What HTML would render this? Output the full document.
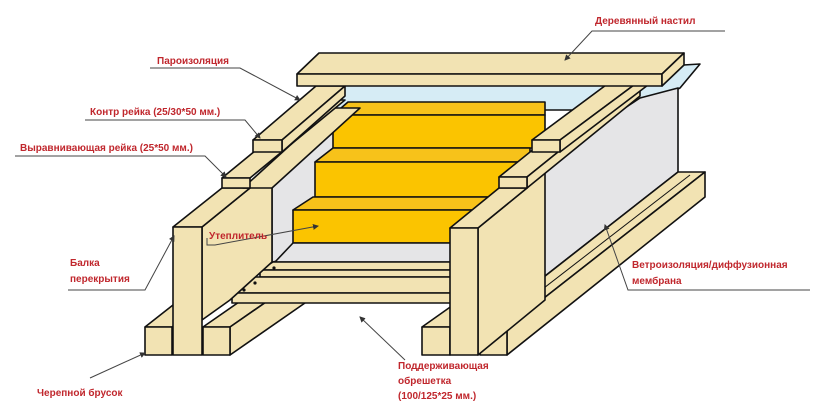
<!DOCTYPE html>
<html><head><meta charset="utf-8"><style>
html,body{margin:0;padding:0;background:#fff;}
svg{display:block}
text{font-family:"Liberation Sans","DejaVu Sans",sans-serif;font-weight:bold;font-size:10px;fill:#c0272d}
</style></head><body>
<svg width="830" height="406" viewBox="0 0 830 406" xmlns="http://www.w3.org/2000/svg">
<defs><marker id="a" markerWidth="6" markerHeight="6" refX="5" refY="3" orient="auto"><path d="M0,0 L6,3 L0,6 z" fill="#333"/></marker></defs>
<g stroke="#111" stroke-width="1.6" stroke-linejoin="round">
<!-- film -->
<polygon points="300,110 325,87 700,64 680,88 655,100 640,110" fill="#d6ecf5"/>
<!-- grey walls -->
<polygon points="272,168 345,108 345,250 272,262" fill="#e5e5e7"/>
<polygon points="530,170 640,98 678,88 678,172 545,276 530,276" fill="#e5e5e7"/>
<!-- steps -->
<polygon points="333,115 348,102 545,102 545,115" fill="#f7c21a"/>
<rect x="333" y="115" width="212" height="33" fill="#fbc400"/>
<polygon points="315,162 333,148 530,148 530,162" fill="#f7c21a"/>
<rect x="315" y="162" width="215" height="35" fill="#fbc400"/>
<polygon points="293,210 313,197 510,197 510,210" fill="#f7c21a"/>
<rect x="293" y="210" width="217" height="33" fill="#fbc400"/>
<polygon points="275,262 293,243 460,243 460,262" fill="#e5e5e7"/>
<!-- lower bruski (under boards) -->
<polygon points="145,327 172,327 200,305 173,305" fill="#f2e3b3"/>
<rect x="145" y="327" width="27" height="28" fill="#f2e3b3"/>
<polygon points="203,327 230,327 315,268 288,268" fill="#f2e3b3"/>
<polygon points="230,327 315,268 315,296 230,355" fill="#f2e3b3"/>
<rect x="203" y="327" width="27" height="28" fill="#f2e3b3"/>
<polygon points="422,327 450,327 490,298 463,298" fill="#f2e3b3"/>
<rect x="422" y="327" width="28" height="28" fill="#f2e3b3"/>
<!-- lathing -->
<polygon points="260,270 273,262 455,262 455,270" fill="#f2e3b3"/>
<rect x="260" y="270" width="195" height="7" fill="#f2e3b3"/>
<polygon points="232,293 250,277 455,277 455,293" fill="#f2e3b3"/>
<rect x="232" y="293" width="223" height="10" fill="#f2e3b3"/>
<!-- right long brusok -->
<polygon points="480,327 507,327 705,172 678,172" fill="#f2e3b3"/>
<polygon points="507,327 705,172 705,197 507,355" fill="#f2e3b3"/>
<rect x="480" y="327" width="27" height="28" fill="#f2e3b3"/>
<line x1="500" y1="322" x2="690" y2="175" stroke-width="1"/>
<!-- left beam -->
<polygon points="202,227 250,188 272,162 272,262 230,300 202,320" fill="#f2e3b3"/>
<polygon points="173,227 202,227 250,188 222,188" fill="#f2e3b3"/>
<rect x="173" y="227" width="29" height="128" fill="#f2e3b3"/>
<!-- left rails -->
<polygon points="243,188 272,188 360,108 331,108" fill="#f2e3b3"/>
<polygon points="222,178 250,178 345,100 317,100" fill="#f2e3b3"/>
<rect x="222" y="178" width="28" height="10" fill="#f2e3b3"/>
<polygon points="253,140 282,140 345,86 316,86" fill="#f2e3b3"/>
<polygon points="282,140 345,86 345,96 282,152" fill="#f2e3b3"/>
<rect x="253" y="140" width="29" height="12" fill="#f2e3b3"/>
<!-- right post -->
<polygon points="478,228 527,188 545,170 545,300 478,355" fill="#f2e3b3"/>
<polygon points="450,228 478,228 527,188 499,188" fill="#f2e3b3"/>
<rect x="450" y="228" width="28" height="127" fill="#f2e3b3"/>
<!-- right rails -->
<polygon points="499,177 527,177 640,86 612,86" fill="#f2e3b3"/>
<polygon points="527,177 640,86 640,96 527,188" fill="#f2e3b3"/>
<rect x="499" y="177" width="28" height="11" fill="#f2e3b3"/>
<polygon points="532,140 560,140 665,62 637,62" fill="#f2e3b3"/>
<polygon points="560,140 665,62 665,72 560,152" fill="#f2e3b3"/>
<rect x="532" y="140" width="28" height="12" fill="#f2e3b3"/>
<!-- top board -->
<polygon points="297,74 319,53 684,53 662,74" fill="#f2e3b3"/>
<rect x="297" y="74" width="365" height="12" fill="#f2e3b3"/>
<polygon points="662,74 684,53 684,65 662,86" fill="#f2e3b3"/>
</g>
<g fill="#111"><circle cx="274" cy="268" r="1.6"/><circle cx="255" cy="283" r="1.6"/><circle cx="244" cy="290" r="1.6"/></g>
<g stroke="#444" stroke-width="1" fill="none">
<polyline points="725,31 592,31 565,60" marker-end="url(#a)"/>
<polyline points="150,68 240,68 300,100" marker-end="url(#a)"/>
<polyline points="85,120 245,120 260,138" marker-end="url(#a)"/>
<polyline points="15,156 205,156 226,177" marker-end="url(#a)"/>
<polyline points="207,238 207,245 215,245 318,226" marker-end="url(#a)"/>
<polyline points="68,290 145,290 174,236" marker-end="url(#a)"/>
<polyline points="90,378 145,353" marker-end="url(#a)"/>
<polyline points="405,360 360,317" marker-end="url(#a)"/>
<polyline points="810,290 628,290 605,225" marker-end="url(#a)"/>
</g>
<text x="595" y="24">Деревянный настил</text>
<text x="157" y="64">Пароизоляция</text>
<text x="90" y="115">Контр рейка (25/30*50 мм.)</text>
<text x="20" y="151">Выравнивающая рейка (25*50 мм.)</text>
<text x="209" y="239">Утеплитель</text>
<text x="70" y="266">Балка</text>
<text x="70" y="282">перекрытия</text>
<text x="37" y="396">Черепной брусок</text>
<text x="398" y="369">Поддерживающая</text>
<text x="398" y="384">обрешетка</text>
<text x="398" y="399">(100/125*25 мм.)</text>
<text x="632" y="268">Ветроизоляция/диффузионная</text>
<text x="632" y="284">мембрана</text>
</svg>
</body></html>
